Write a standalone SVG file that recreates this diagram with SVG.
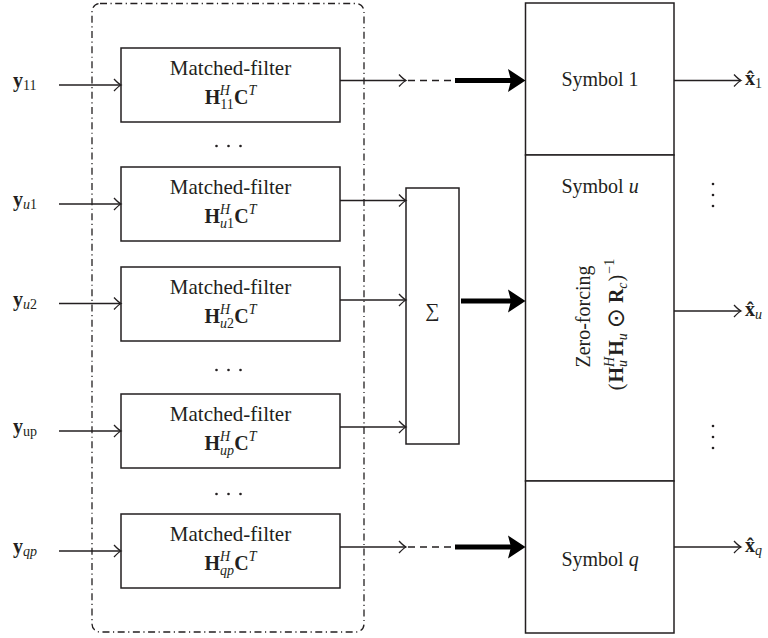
<svg xmlns="http://www.w3.org/2000/svg" width="768" height="638" viewBox="0 0 768 638">
<style>
.t{font-family:"Liberation Serif","DejaVu Serif",serif;font-size:20px;fill:#231f20}
.mf{font-size:21px}
.b{font-weight:bold}
.i{font-style:italic}
.s{font-size:14px}
.box{fill:#fff;stroke:#231f20;stroke-width:1.5}
.ln{fill:none;stroke:#231f20;stroke-width:1.3}
.dash{fill:none;stroke:#231f20;stroke-width:1.3;stroke-dasharray:7 5}
.thick{fill:none;stroke:#000;stroke-width:5}
.dd{fill:none;stroke:#231f20;stroke-width:1.3;stroke-dasharray:7 3.5 1.2 3.5}
.dot{fill:#231f20}
</style>
<defs>
<marker id="open" markerUnits="userSpaceOnUse" markerWidth="12" markerHeight="14" viewBox="-9 -7 10 14" refX="0" refY="0" orient="auto" overflow="visible">
<path d="M-7,-6 Q-2.5,-1.2 0,0 Q-2.5,1.2 -7,6" fill="none" stroke="#231f20" stroke-width="1.3"/>
</marker>
<path id="head" d="M-17.5,-11.5 L0,0 L-17.5,11.5 L-14.5,0 Z" fill="#000"/>
</defs>

<g id="group-box">
<rect class="dd" x="92" y="3.5" width="272" height="628.5" rx="8"/>
</g>

<g id="mf11">
<rect class="box" x="121" y="48" width="219" height="74"/>
<text class="t mf" x="230.5" y="75" text-anchor="middle">Matched-filter</text>
<text class="t" x="230.5" y="104" text-anchor="middle"><tspan class="b">H</tspan><tspan class="s" dy="5">11</tspan><tspan class="s i" dx="-14" dy="-14">H</tspan><tspan class="b" dx="4" dy="9">C</tspan><tspan class="s i" dy="-9">T</tspan></text>
</g>
<g id="mfu1">
<rect class="box" x="121" y="167" width="219" height="74"/>
<text class="t mf" x="230.5" y="194" text-anchor="middle">Matched-filter</text>
<text class="t" x="230.5" y="223" text-anchor="middle"><tspan class="b">H</tspan><tspan class="s" dy="5"><tspan class="i">u</tspan>1</tspan><tspan class="s i" dx="-14" dy="-14">H</tspan><tspan class="b" dx="4" dy="9">C</tspan><tspan class="s i" dy="-9">T</tspan></text>
</g>
<g id="mfu2">
<rect class="box" x="121" y="267" width="219" height="74"/>
<text class="t mf" x="230.5" y="294" text-anchor="middle">Matched-filter</text>
<text class="t" x="230.5" y="323" text-anchor="middle"><tspan class="b">H</tspan><tspan class="s" dy="5"><tspan class="i">u</tspan>2</tspan><tspan class="s i" dx="-14" dy="-14">H</tspan><tspan class="b" dx="4" dy="9">C</tspan><tspan class="s i" dy="-9">T</tspan></text>
</g>
<g id="mfup">
<rect class="box" x="121" y="394" width="219" height="74"/>
<text class="t mf" x="230.5" y="421" text-anchor="middle">Matched-filter</text>
<text class="t" x="230.5" y="450" text-anchor="middle"><tspan class="b">H</tspan><tspan class="s i" dy="5">up</tspan><tspan class="s i" dx="-14" dy="-14">H</tspan><tspan class="b" dx="4" dy="9">C</tspan><tspan class="s i" dy="-9">T</tspan></text>
</g>
<g id="mfqp">
<rect class="box" x="121" y="514" width="219" height="74"/>
<text class="t mf" x="230.5" y="541" text-anchor="middle">Matched-filter</text>
<text class="t" x="230.5" y="570" text-anchor="middle"><tspan class="b">H</tspan><tspan class="s i" dy="5">qp</tspan><tspan class="s i" dx="-14" dy="-14">H</tspan><tspan class="b" dx="4" dy="9">C</tspan><tspan class="s i" dy="-9">T</tspan></text>
</g>

<g id="dots">
<circle class="dot" cx="216.5" cy="146" r="1.3"/><circle class="dot" cx="228.5" cy="146" r="1.3"/><circle class="dot" cx="240.5" cy="146" r="1.3"/>
<circle class="dot" cx="216.5" cy="370" r="1.3"/><circle class="dot" cx="228.5" cy="370" r="1.3"/><circle class="dot" cx="240.5" cy="370" r="1.3"/>
<circle class="dot" cx="216.5" cy="494" r="1.3"/><circle class="dot" cx="228.5" cy="494" r="1.3"/><circle class="dot" cx="240.5" cy="494" r="1.3"/>
<circle class="dot" cx="713" cy="184" r="1.3"/><circle class="dot" cx="713" cy="195" r="1.3"/><circle class="dot" cx="713" cy="206" r="1.3"/>
<circle class="dot" cx="713" cy="426" r="1.3"/><circle class="dot" cx="713" cy="437" r="1.3"/><circle class="dot" cx="713" cy="448" r="1.3"/>
</g>

<g id="sum">
<rect class="box" x="406" y="188" width="53" height="256"/>
<text class="t" x="432.5" y="317" text-anchor="middle" font-size="22">∑</text>
</g>

<g id="symbol1">
<rect class="box" x="525.5" y="3" width="148.5" height="152" stroke-width="2"/>
<text class="t" x="600" y="86" text-anchor="middle">Symbol 1</text>
</g>
<g id="zeroforcing">
<rect class="box" x="525.5" y="155" width="148.5" height="326"/>
<text class="t" x="600" y="193" text-anchor="middle">Symbol <tspan class="i">u</tspan></text>
<text class="t" transform="translate(590,316.5) rotate(-90)" text-anchor="middle">Zero-forcing</text>
<text class="t" transform="translate(623,324.5) rotate(-90)" text-anchor="middle">(<tspan class="b" dx="1">H</tspan><tspan class="s i" dy="4">u</tspan><tspan class="s i" dx="-7" dy="-13">H</tspan><tspan class="b" dx="1" dy="9">H</tspan><tspan class="s i" dy="4">u</tspan><tspan dx="5" dy="-3" font-size="24" font-family="DejaVu Sans, sans-serif">⊙</tspan><tspan class="b" dx="5" dy="-1">R</tspan><tspan class="s i" dy="4">c</tspan><tspan dx="1" dy="-4">)</tspan><tspan class="s" dy="-9" dx="1">−1</tspan></text>
</g>
<g id="symbolq">
<rect class="box" x="525.5" y="481" width="148.5" height="152" stroke-width="2"/>
<text class="t" x="600" y="566" text-anchor="middle">Symbol <tspan class="i">q</tspan></text>
</g>

<g id="inputs">
<text class="t" x="13" y="87" font-size="21"><tspan class="b">y</tspan><tspan class="s" dy="3">11</tspan></text>
<text class="t" x="13" y="206" font-size="21"><tspan class="b">y</tspan><tspan class="s" dy="3"><tspan class="i">u</tspan>1</tspan></text>
<text class="t" x="13" y="305.5" font-size="21"><tspan class="b">y</tspan><tspan class="s" dy="3"><tspan class="i">u</tspan>2</tspan></text>
<text class="t" x="13" y="433" font-size="21"><tspan class="b">y</tspan><tspan class="s" dy="3">up</tspan></text>
<text class="t" x="13" y="553" font-size="21"><tspan class="b">y</tspan><tspan class="s i" dy="3">qp</tspan></text>
</g>

<g id="outputs">
<text class="t" x="745" y="85"><tspan class="b">x̂</tspan><tspan class="s" dy="3">1</tspan></text>
<text class="t" x="745" y="316"><tspan class="b">x̂</tspan><tspan class="s i" dy="3">u</tspan></text>
<text class="t" x="745" y="552"><tspan class="b">x̂</tspan><tspan class="s i" dy="3">q</tspan></text>
</g>

<g id="connectors">
<path class="ln" d="M59,85 H121" marker-end="url(#open)"/>
<path class="ln" d="M59,204 H121" marker-end="url(#open)"/>
<path class="ln" d="M59,303.5 H121" marker-end="url(#open)"/>
<path class="ln" d="M59,431 H121" marker-end="url(#open)"/>
<path class="ln" d="M59,551 H121" marker-end="url(#open)"/>

<path class="ln" d="M340,80.5 H406" marker-end="url(#open)"/>
<path class="dash" d="M408,80.5 H455"/>
<path class="thick" d="M455,80.5 H512"/>
<use href="#head" x="525.5" y="80.5"/>

<path class="ln" d="M340,200.5 H406" marker-end="url(#open)"/>
<path class="ln" d="M340,300 H406" marker-end="url(#open)"/>
<path class="ln" d="M340,427 H406" marker-end="url(#open)"/>

<path class="thick" d="M461,301 H512"/>
<use href="#head" x="525.5" y="301"/>

<path class="ln" d="M340,547 H406" marker-end="url(#open)"/>
<path class="dash" d="M408,547 H455"/>
<path class="thick" d="M455,547 H512"/>
<use href="#head" x="525.5" y="547"/>

<path class="ln" d="M674,80.5 H741" marker-end="url(#open)"/>
<path class="ln" d="M674,311 H741" marker-end="url(#open)"/>
<path class="ln" d="M674,547 H741" marker-end="url(#open)"/>
</g>
</svg>
